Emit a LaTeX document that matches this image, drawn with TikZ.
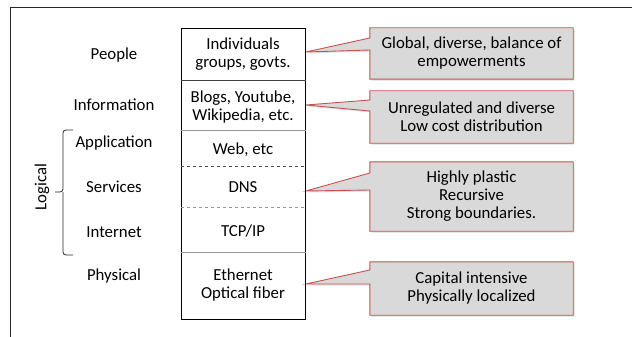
\documentclass[tikz,border=0pt]{standalone}
\usepackage{fontspec}
\setmainfont{Carlito}
\usetikzlibrary{shadows,backgrounds}
\definecolor{calloutfill}{RGB}{217,217,217}
\definecolor{calloutedge}{RGB}{200,82,80}
\definecolor{rulegrey}{RGB}{150,150,150}
\definecolor{framegrey}{RGB}{40,40,40}

\begin{document}
\begin{tikzpicture}[
    x=1pt,
    y=-1pt,
    font=\fontsize{16.8}{18}\selectfont,
    layer label/.style={
      align=center,
      inner sep=0pt
    },
    cell text/.style={
      align=center,
      inner sep=0pt
    },
    cell rule/.style={
      line width=0.8pt
    },
    note text/.style={
      align=center,
      inner sep=0pt,
      minimum width=203
    },
    callout/.style={
      fill=calloutfill,
      draw=calloutedge,
      line width=0.9pt,
      line join=miter,
      drop shadow={shadow xshift=1.5pt,shadow yshift=-1.5pt,opacity=0.25}
    }
]
\useasboundingbox (0,0) rectangle (632,337);

% Slide frame.
\draw[framegrey,line width=1pt] (10,337) -- (10,8) -- (632,8);

% Protocol stack column.
\node[draw,line width=0.8pt,minimum width=124,minimum height=291,
  anchor=north west,inner sep=0pt] (stack) at (181,28) {};

\draw[cell rule,black!75] (stack.west |- 0,80) -- (stack.east |- 0,80);
\draw[cell rule,rulegrey] (stack.west |- 0,130) -- (stack.east |- 0,130);
\draw[cell rule,dashed,black!70] (stack.west |- 0,166) -- (stack.east |- 0,166);
\draw[cell rule,dashed,rulegrey] (stack.west |- 0,207) -- (stack.east |- 0,207);
\draw[cell rule,rulegrey] (stack.west |- 0,252) -- (stack.east |- 0,252);

\node[cell text] (cellpeople) at (243,54.5) {Individuals\\groups, govts.};
\node[cell text] (cellinfo) at (243,107) {Blogs, Youtube,\\Wikipedia, etc.};
\node[cell text] (cellapp) at (243,150) {Web, etc};
\node[cell text] (cellserv) at (243,187) {DNS};
\node[cell text] (cellnet) at (243,231) {TCP/IP};
\node[cell text] (cellphys) at (243,285) {Ethernet\\Optical fiber};

% Layer names on the left.
\foreach \layer/\ypos in {
  People/55,
  Information/105,
  Application/143,
  Services/187,
  Internet/232,
  Physical/276
}{
  \node[layer label] (label\layer) at (114,\ypos) {\layer};
}

\node[rotate=90,inner sep=0pt] (logical) at (42,187) {Logical};
\draw[framegrey,line width=0.8pt,rounded corners=3pt]
  (73,130) -| (63,192) -- (55,192);
\draw[framegrey,line width=0.8pt,rounded corners=3pt]
  (73,255) -| (63,192);

% Comment callouts.
\node[note text,minimum height=51] (note1) at (471.5,53.5)
  {Global, diverse, balance of\\empowerments};
\node[note text,minimum height=52] (note2) at (471.5,117)
  {Unregulated and diverse\\Low cost distribution};
\node[note text,minimum height=69] (note3) at (471.5,196.5)
  {Highly plastic\\Recursive\\Strong boundaries.};
\node[note text,minimum height=53] (note4) at (471.5,288.5)
  {Capital intensive\\Physically localized};

\begin{scope}[on background layer]
\foreach \i/\wt/\wb/\tip in {1/38/50/52,2/100/111/105,3/173/190/191,4/270/284/284}{
  \draw[callout]
    (note\i.north west) -- (note\i.north east) -- (note\i.south east)
    -- (note\i.south west) -- (note\i.west |- 0,\wb)
    -- (stack.east |- 0,\tip) -- (note\i.west |- 0,\wt) -- cycle;
}
\end{scope}

\end{tikzpicture}
\end{document}
